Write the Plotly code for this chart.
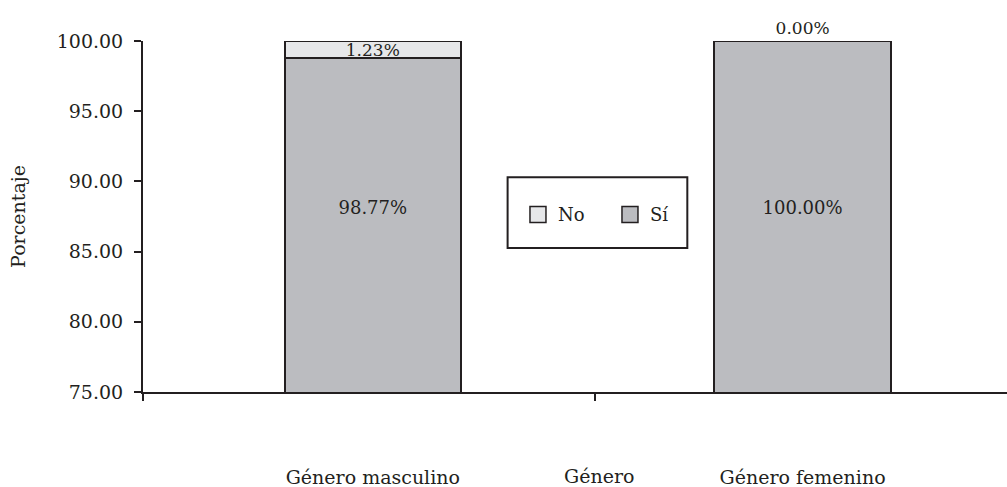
import plotly.graph_objects as go

# ---- data ----
categories = ["Género masculino", "Género femenino"]
si_values = [98.77, 100.00]
no_values = [1.23, 0.00]
series_names = ["Sí", "No"]
y_tick_values = [75, 80, 85, 90, 95, 100]

# ---- style ----
FONT = "DejaVu Serif"
DARK = "#231f20"
SI_COLOR = "#bbbcc0"
NO_COLOR = "#e6e7e9"
Y_RANGE = [75, 100]
X_RANGE = [-0.5347, 1.4756]
BOUNDARY_TICKS = [-0.5347, 0.5174]

x_pos = list(range(len(categories)))

fig = go.Figure()

fig.add_trace(go.Bar(
    x=x_pos, y=si_values, name=series_names[0],
    marker=dict(color=SI_COLOR, line=dict(color=DARK, width=2)),
    width=0.41, showlegend=False, hoverinfo="skip",
))
fig.add_trace(go.Bar(
    x=x_pos, y=no_values, name=series_names[1],
    marker=dict(color=NO_COLOR, line=dict(color=DARK, width=2)),
    width=0.41, showlegend=False,
    text=[f"{v:.2f}%" for v in no_values],
    textposition=["inside" if v > 0 else "outside" for v in no_values],
    insidetextanchor="middle",
    constraintext="none",
    textfont=dict(family=FONT, size=17, color=DARK),
    cliponaxis=False, hoverinfo="skip",
))

# labels for the "Sí" segments (placed in the visible middle of the bars)
label_y = (Y_RANGE[0] + Y_RANGE[1]) / 2 + 0.5
fig.add_trace(go.Scatter(
    x=x_pos, y=[label_y] * len(x_pos), mode="text",
    text=[f"{v:.2f}%" for v in si_values],
    textfont=dict(family=FONT, size=18, color=DARK),
    showlegend=False, hoverinfo="skip",
))

# legend proxies
for name, col in [("No", NO_COLOR), ("Sí", SI_COLOR)]:
    fig.add_trace(go.Scatter(
        x=[None], y=[None], mode="markers", name=name,
        marker=dict(symbol="square", size=16, color=col,
                    line=dict(color=DARK, width=1.5)),
        showlegend=True,
    ))

fig.update_layout(
    width=1007, height=487,
    margin=dict(l=143, r=0, t=41, b=95),
    paper_bgcolor="white", plot_bgcolor="white",
    barmode="stack",
    font=dict(family=FONT, size=18, color=DARK),
    legend=dict(
        orientation="h", x=0.434, y=0.505, xanchor="left", yanchor="middle",
        bgcolor="rgba(0,0,0,0)", borderwidth=0, traceorder="normal",
        font=dict(family=FONT, size=18, color=DARK),
        itemsizing="trace", entrywidth=47,
    ),
    xaxis=dict(
        range=X_RANGE, showgrid=False, zeroline=False,
        showline=True, linecolor=DARK, linewidth=2,
        tickvals=x_pos, ticktext=categories, ticks="",
        ticklabelstandoff=67,
        tickfont=dict(family=FONT, size=19, color=DARK),
        minor=dict(tickvals=BOUNDARY_TICKS, ticks="outside", ticklen=7,
                   tickwidth=2, tickcolor=DARK, showgrid=False),
    ),
    yaxis=dict(
        range=Y_RANGE, tickvals=y_tick_values, tickformat=".2f",
        showgrid=False, zeroline=False,
        showline=True, linecolor=DARK, linewidth=2,
        ticks="outside", ticklen=7, tickwidth=2, tickcolor=DARK,
        ticklabelstandoff=7,
        tickfont=dict(family=FONT, size=19, color=DARK),
        title=dict(text="Porcentaje", font=dict(family=FONT, size=19, color=DARK),
                   standoff=26),
    ),
    shapes=[dict(type="rect", xref="paper", yref="paper",
                 x0=0.422, x1=0.630, y0=0.410, y1=0.612,
                 line=dict(color=DARK, width=2), fillcolor="white", layer="below")],
    annotations=[dict(text="Género", xref="paper", yref="paper",
                      x=0.528, y=-0.240, xanchor="center", yanchor="middle",
                      showarrow=False, font=dict(family=FONT, size=19, color=DARK))],
)

fig.write_html("out.html", config={"displayModeBar": False},
               post_script="document.body.style.margin='0';")
